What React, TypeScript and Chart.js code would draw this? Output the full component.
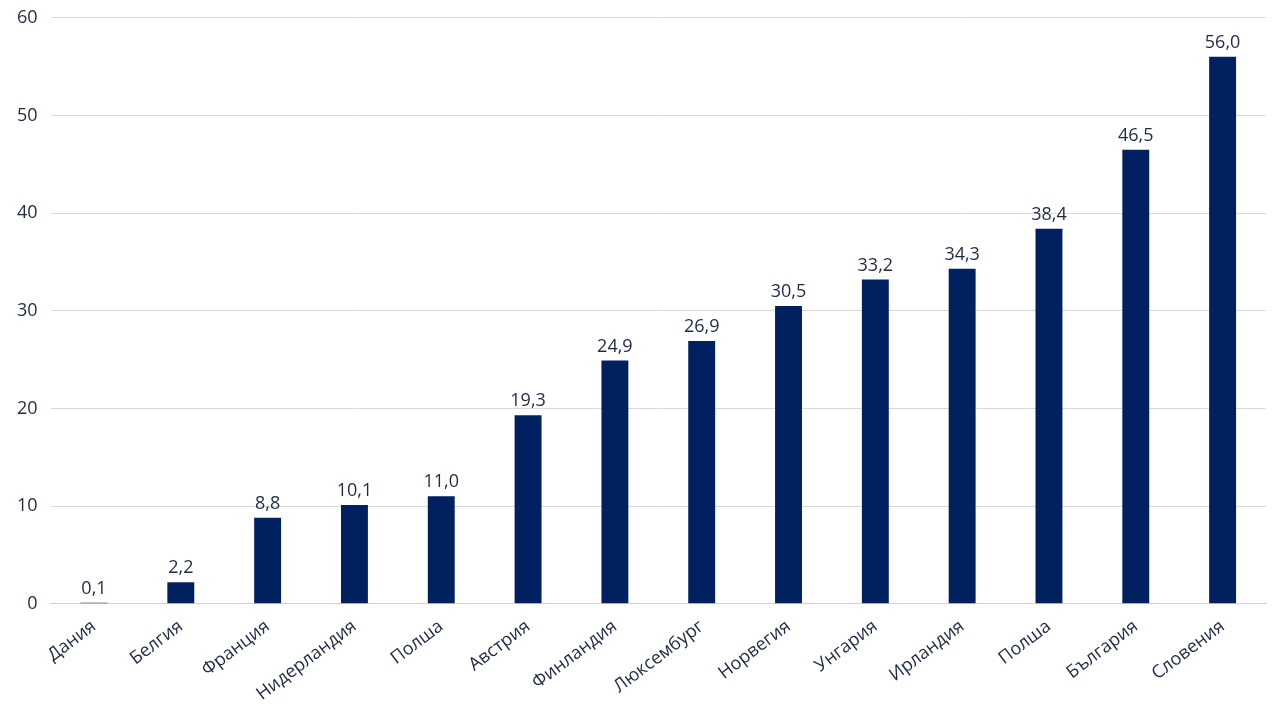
import { useEffect, useRef } from "react"
import Chart from "chart.js/auto"

const countries = [
  "Дания", "Белгия", "Франция", "Нидерландия", "Полша", "Австрия", "Финландия",
  "Люксембург", "Норвегия", "Унгария", "Ирландия", "Полша", "България", "Словения",
]
const values = [0.1, 2.2, 8.8, 10.1, 11.0, 19.3, 24.9, 26.9, 30.5, 33.2, 34.3, 38.4, 46.5, 56.0]
const yTicks = [0, 10, 20, 30, 40, 50, 60]

const NAVY = "#002060"
const TEXT = "#1f2a44"
const FONT = "'Open Sans', 'DejaVu Sans', sans-serif"

const fmt = (v: number) => v.toFixed(1).replace(".", ",")

const valueLabels = {
  id: "valueLabels",
  afterDatasetsDraw(chart: Chart) {
    const ctx = chart.ctx
    const meta = chart.getDatasetMeta(0)
    ctx.save()
    ctx.font = `18px ${FONT}`
    ctx.fillStyle = TEXT
    ctx.textAlign = "center"
    ctx.textBaseline = "bottom"
    meta.data.forEach((bar: any, i: number) => {
      ctx.fillText(fmt(values[i]), bar.x, bar.y - 5)
    })
    ctx.restore()
  },
}

export default function App() {
  const canvasRef = useRef<HTMLCanvasElement>(null)

  useEffect(() => {
    document.body.style.margin = "0"
    if (!canvasRef.current) return
    const chart = new Chart(canvasRef.current, {
      type: "bar",
      data: {
        labels: countries,
        datasets: [
          {
            data: values,
            backgroundColor: NAVY,
            borderWidth: 0,
            barPercentage: 0.31,
            categoryPercentage: 1,
          },
        ],
      },
      options: {
        responsive: true,
        maintainAspectRatio: false,
        animation: false,
        layout: { padding: { top: 0, right: 14, left: 4, bottom: 11 } },
        plugins: { legend: { display: false }, tooltip: { enabled: false } },
        scales: {
          x: {
            grid: { display: false },
            border: { color: "#d0d0d0", width: 1 },
            ticks: {
              color: TEXT,
              font: { family: FONT, size: 18 },
              maxRotation: 37,
              minRotation: 37,
              autoSkip: false,
              padding: 4,
            },
          },
          y: {
            min: 0,
            max: 60,
            afterBuildTicks: (axis: any) => {
              axis.ticks = yTicks.map((v) => ({ value: v }))
            },
            grid: { color: "#d9d9d9", drawTicks: false },
            border: { display: false },
            ticks: {
              color: TEXT,
              font: { family: FONT, size: 18 },
              padding: 13,
            },
          },
        },
      },
      plugins: [valueLabels],
    })
    return () => chart.destroy()
  }, [])

  return (
    <div style={{ position: "relative", width: 1280, height: 720, overflow: "hidden", background: "#fff" }}>
      <div style={{ position: "absolute", left: 0, top: -6, width: 1280, height: 726 }}>
        <canvas ref={canvasRef} />
      </div>
    </div>
  )
}
